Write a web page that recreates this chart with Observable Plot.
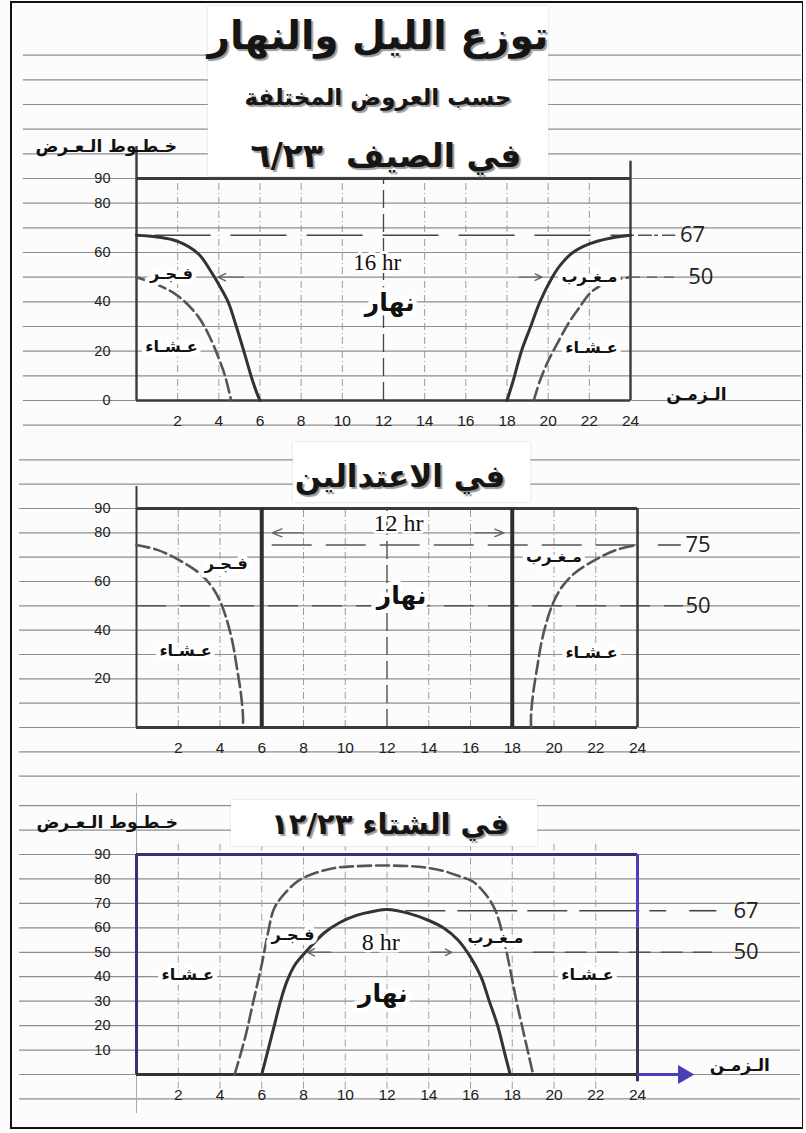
<!DOCTYPE html>
<html lang="ar">
<head>
<meta charset="utf-8">
<script src="https://cdn.jsdelivr.net/npm/d3@7"></script>
<script src="https://cdn.jsdelivr.net/npm/@observablehq/plot@0.6"></script>
<style>
  html,body{margin:0;padding:0;background:#fff;}
  #page{position:relative;width:806px;height:1133px;overflow:hidden;background:#fcfcfc;}
  #frame{position:absolute;left:10px;top:1px;width:790px;height:1124px;border:2px solid #111;border-right-width:1px;pointer-events:none;z-index:20;}
  .sec{position:absolute;left:0;}
  .box{position:absolute;background:#fff;box-shadow:0 0 2px #d0d0d0;z-index:5;}
  .ttl{position:absolute;font-family:"DejaVu Sans",sans-serif;font-weight:bold;color:#151515;text-align:center;direction:rtl;white-space:nowrap;text-shadow:2px 2px 1px #9a9a9a;z-index:6;transform:translate(-50%,-50%);}
  .lat{position:absolute;font-family:"DejaVu Sans",sans-serif;font-weight:bold;font-size:17px;color:#111;direction:rtl;white-space:nowrap;z-index:6;transform:translate(-100%,-50%);}
</style>
</head>
<body>
<div id="page">
  <div id="frame"></div>
  <div id="s1" class="sec" style="top:0px"></div>
  <div id="s2" class="sec" style="top:440px"></div>
  <div id="s3" class="sec" style="top:780px"></div>

  <div class="box" style="left:208px;top:6px;width:340px;height:170px"></div>
  <div class="ttl" style="left:378px;top:35px;font-size:39px">توزع الليل والنهار</div>
  <div class="ttl" style="left:378px;top:97px;font-size:23px">حسب العروض المختلفة</div>
  <div class="ttl" style="left:386px;top:155px;font-size:33px">في الصيف&nbsp; ٦/٢٣</div>
  <div class="lat" style="left:177px;top:146px">خـطـوط الـعـرض</div>

  <div class="box" style="left:293px;top:442px;width:237px;height:60px"></div>
  <div class="ttl" style="left:400px;top:476px;font-size:31px">في الاعتدالين</div>

  <div class="box" style="left:231px;top:800px;width:306px;height:46px"></div>
  <div class="ttl" style="left:390px;top:824px;font-size:29px">في الشتاء ١٢/٢٣</div>
  <div class="lat" style="left:178px;top:822px">خـطـوط الـعـرض</div>
</div>
<script>
// ---------- data ----------
const hourTicks = [2, 4, 6, 8, 10, 12, 14, 16, 18, 20, 22, 24];
const latTicksSummer = [0, 20, 40, 60, 80, 90];
const latTicksEquinox = [20, 40, 60, 80, 90];
const latTicksWinter = [10, 20, 30, 40, 50, 60, 70, 80, 90];

// summer 6/23
const summerSunriseHour = [0, 1, 2, 3, 3.64, 4, 4.45, 4.85, 5.25, 5.6, 5.85, 6];
const summerSunriseLat  = [67, 66.3, 64.5, 59.5, 52, 47, 40, 30, 19, 9, 3, 0];
const summerDawnHour = [0, 1, 2, 3, 3.6, 4, 4.3, 4.6];
const summerDawnLat  = [50, 47, 42.5, 34, 25, 17, 10, 0];
const summerSunsetHour = [18, 18.3, 18.7, 19.15, 19.6, 20.2, 20.6, 21.2, 22, 23, 24];
const summerSunsetLat  = [0, 8, 20, 30, 40, 50, 55, 60, 63.5, 65.8, 67];
const summerDuskHour = [19.3, 19.6, 20, 20.5, 21, 21.5, 22.1, 23, 24];
const summerDuskLat  = [0, 8, 16, 24, 31.5, 37.5, 44, 48.3, 50];

// equinoxes
const equinoxDawnHour = [0, 1, 2, 3, 3.6, 4, 4.3, 4.6, 4.8, 5, 5.1, 5.1];
const equinoxDawnLat  = [75, 73, 69, 63.5, 58, 52, 45, 35, 25, 14, 5, 0];
const equinoxDuskHour = [18.9, 18.9, 19, 19.2, 19.4, 19.7, 20, 20.4, 21, 22, 23, 24];
const equinoxDuskLat  = [0, 5, 14, 25, 35, 45, 52, 58, 63.5, 69, 73, 75];
const equinoxDayBounds = [6, 18];

// winter 12/23
const winterSunHour = [6, 6.3, 6.6, 6.9, 7.2, 7.6, 8.2, 9, 9.7, 10.5, 11.5, 12, 13, 14, 14.7, 15.4, 16, 16.5, 16.9, 17.3, 17.6, 17.9];
const winterSunLat  = [0, 10, 20, 30, 38, 45, 51, 58, 62, 65, 67, 67.5, 66, 63, 60, 55, 48, 40, 30, 20, 10, 0];
const winterTwilightHour = [4.7, 5.2, 5.6, 6, 6.3, 6.6, 7.2, 7.8, 8.6, 9.5, 10.5, 12, 13.5, 14.6, 15.5, 16.1, 16.7, 17.2, 17.6, 17.9, 18.2, 18.6, 19];
const winterTwilightLat  = [0, 15, 30, 45, 58, 68, 75, 79.5, 82.5, 84.5, 85.2, 85.5, 85, 83.5, 81, 79, 74, 67, 55, 43, 30, 15, 0];

// reference latitudes
const summerRefLats = [67, 50];
const equinoxRefLats = [75, 50];
const winterRefLats = [67, 50];
const dayLengths = ["16 hr", "12 hr", "8 hr"];

// ---------- helpers ----------
const zip = (hs, ls) => hs.map((h, i) => ({h, lat: ls[i]}));
const range = (a, b, s) => d3.range(a, b + s / 2, s);
const ARAB = "'DejaVu Sans', sans-serif";
const SANS = "'Liberation Sans', Arial, sans-serif";
const NUM = "'Open Sans', 'Liberation Sans', sans-serif";
const SERIF = "'Liberation Serif', 'DejaVu Serif', serif";
const RULE = "#8e8e8e";
const baseStyle = {background: "transparent", overflow: "visible", fontFamily: SANS, color: "#222"};

const FAJR = "فـجـر", ISHA = "عـشـاء", MAGHRIB = "مـغـرب", NAHAR = "نهار", TIME = "الـزمـن";

function ruled(levels, x1, x2) {
  return Plot.ruleY(levels, {y: d => d, x1: () => x1, x2: () => x2, stroke: RULE, strokeWidth: 1.2});
}
function lbl(items, opts = {}) {
  return Plot.text(items, {x: "x", y: "y", text: "t", fontFamily: ARAB, fontSize: 16, fontWeight: "bold", fill: "#111",
    stroke: "white", strokeWidth: 9, paintOrder: "stroke", ...opts});
}
function solid(hs, ls) {
  return Plot.line(zip(hs, ls), {x: "h", y: "lat", curve: "catmull-rom", stroke: "#333", strokeWidth: 3});
}
function dashed(hs, ls) {
  return Plot.line(zip(hs, ls), {x: "h", y: "lat", curve: "catmull-rom", stroke: "#555", strokeWidth: 2.6, strokeDasharray: "13,5"});
}

// ---------- summer ----------
const c1 = Plot.plot({
  width: 806, height: 440,
  marginLeft: 136, marginRight: 176, marginTop: 178, marginBottom: 40,
  x: {domain: [0, 24], axis: null},
  y: {domain: [0, 90], axis: null},
  style: baseStyle,
  marks: [
    ruled(range(-10, 140, 10), -5.5, 32.3),
    Plot.ruleX(hourTicks.filter(h => h !== 12 && h !== 24), {x: d => d, y1: 0, y2: 90, stroke: "#9a9a9a", strokeWidth: 1, strokeDasharray: "7,3,1,3"}),
    Plot.ruleX([12], {x: d => d, y1: 0, y2: 90, stroke: "#444", strokeWidth: 1.3, strokeDasharray: "18,6"}),
    Plot.ruleY([summerRefLats[0]], {y: d => d, x1: 0.9, x2: 24, stroke: "#444", strokeWidth: 1.5, strokeDasharray: "56,20"}),
    Plot.ruleY([summerRefLats[0]], {y: d => d, x1: 24, x2: 26.2, stroke: "#555", strokeWidth: 1.4, strokeDasharray: "4,4,14,2"}),
    Plot.ruleY([summerRefLats[1]], {y: d => d, x1: 24, x2: 26.3, stroke: "#555", strokeWidth: 1.4, strokeDasharray: "10,7"}),
    // frame
    Plot.ruleY([90], {y: d => d, x1: 0, x2: 24, stroke: "#3a3a3a", strokeWidth: 3}),
    Plot.ruleY([0], {y: d => d, x1: 0, x2: 24, stroke: "#3a3a3a", strokeWidth: 2.6}),
    Plot.ruleX([0], {x: d => d, y1: 0, y2: 103, stroke: "#3a3a3a", strokeWidth: 2.4}),
    Plot.ruleX([24], {x: d => d, y1: 0, y2: 97, stroke: "#3a3a3a", strokeWidth: 2.4}),
    // arrows
    Plot.arrow([{a: 5.2, b: 3.95}, {a: 18.6, b: 19.7}], {x1: "a", x2: "b", y1: () => 50, y2: () => 50, stroke: "#666", strokeWidth: 1.4, headLength: 12, headAngle: 50}),
    // curves
    solid(summerSunriseHour, summerSunriseLat),
    solid(summerSunsetHour, summerSunsetLat),
    dashed(summerDawnHour, summerDawnLat),
    dashed(summerDuskHour, summerDuskLat),
    // axes
    Plot.axisY({ticks: latTicksSummer, anchor: "left", tickSize: 0, tickPadding: 26, fontSize: 14.5}),
    Plot.axisX({ticks: hourTicks, anchor: "bottom", tickSize: 0, tickPadding: 14, fontSize: 15.5}),
    // labels
    Plot.text([dayLengths[0]], {x: () => 11.7, y: () => 56, text: d => d, fontFamily: SERIF, fontSize: 23, fill: "#111", stroke: "white", strokeWidth: 6, paintOrder: "stroke"}),
    lbl([{x: 12.3, y: 39.7, t: NAHAR}], {fontSize: 25}),
    lbl([{x: 1.7, y: 51.5, t: FAJR}, {x: 1.7, y: 21.7, t: ISHA}, {x: 22, y: 50.3, t: MAGHRIB}, {x: 22.1, y: 21.3, t: ISHA}]),
    lbl([{x: 27.2, y: 2.3, t: TIME}], {fontSize: 17, stroke: null}),
    Plot.text(summerRefLats, {x: d => d === 67 ? 26.4 : 26.8, y: d => d, text: d => String(d), textAnchor: "start", fontFamily: NUM, fontSize: 22, fill: "#222"})
  ]
});
document.getElementById("s1").append(c1);

// ---------- equinoxes ----------
const c2 = Plot.plot({
  width: 806, height: 340,
  marginLeft: 136, marginRight: 169, marginTop: 68, marginBottom: 53,
  x: {domain: [0, 24], axis: null},
  y: {domain: [0, 90], axis: null},
  style: baseStyle,
  marks: [
    ruled(range(-20, 110, 10), -5.6, 31.8),
    Plot.ruleX(hourTicks.filter(h => ![6, 12, 18, 24].includes(h)), {x: d => d, y1: 0, y2: 90, stroke: "#9a9a9a", strokeWidth: 1, strokeDasharray: "7,3,1,3"}),
    Plot.ruleX([12], {x: d => d, y1: 0, y2: 90, stroke: "#444", strokeWidth: 1.3, strokeDasharray: "18,6"}),
    Plot.ruleY([equinoxRefLats[0]], {y: d => d, x1: 6.5, x2: 24, stroke: "#555", strokeWidth: 1.5, strokeDasharray: "40,14"}),
    Plot.ruleY([equinoxRefLats[0]], {y: d => d, x1: 25, x2: 26.1, stroke: "#444", strokeWidth: 1.5}),
    Plot.ruleY([equinoxRefLats[1]], {y: d => d, x1: 0, x2: 26.2, stroke: "#555", strokeWidth: 1.5, strokeDasharray: "30,14"}),
    // frame
    Plot.ruleY([90], {y: d => d, x1: 0, x2: 24, stroke: "#3a3a3a", strokeWidth: 3}),
    Plot.ruleY([0], {y: d => d, x1: 0, x2: 24, stroke: "#3a3a3a", strokeWidth: 3}),
    Plot.ruleX([0], {x: d => d, y1: 0, y2: 99, stroke: "#3a3a3a", strokeWidth: 2}),
    Plot.ruleX([24], {x: d => d, y1: 0, y2: 90, stroke: "#3a3a3a", strokeWidth: 2.6}),
    Plot.ruleX(equinoxDayBounds, {x: d => d, y1: 0, y2: 90, stroke: "#2e2e2e", strokeWidth: 4}),
    // arrows
    Plot.arrow([{a: 8, b: 6.5}, {a: 16.2, b: 17.6}], {x1: "a", x2: "b", y1: () => 80, y2: () => 80, stroke: "#666", strokeWidth: 1.4, headLength: 12, headAngle: 45}),
    // curves
    dashed(equinoxDawnHour, equinoxDawnLat),
    dashed(equinoxDuskHour, equinoxDuskLat),
    // axes
    Plot.axisY({ticks: latTicksEquinox, anchor: "left", tickSize: 0, tickPadding: 26, fontSize: 14.5}),
    Plot.axisX({ticks: hourTicks, anchor: "bottom", tickSize: 0, tickPadding: 14, fontSize: 15.5}),
    // labels
    Plot.text([dayLengths[1]], {x: () => 12.55, y: () => 83.8, text: d => d, fontFamily: SERIF, fontSize: 24, fill: "#111", stroke: "white", strokeWidth: 5, paintOrder: "stroke"}),
    lbl([{x: 12.7, y: 54, t: NAHAR}], {fontSize: 25}),
    lbl([{x: 4.3, y: 67.4, t: FAJR}, {x: 2.35, y: 31.6, t: ISHA}, {x: 20, y: 70, t: MAGHRIB}, {x: 21.8, y: 30.8, t: ISHA}]),
    Plot.text(equinoxRefLats, {x: () => 26.3, y: d => d, text: d => String(d), textAnchor: "start", fontFamily: NUM, fontSize: 22, fill: "#222"})
  ]
});
document.getElementById("s2").append(c2);

// ---------- winter ----------
const PURPLE = "#3b2d78";
const BLUE = "#4a3fb5";
const c3 = Plot.plot({
  width: 806, height: 353,
  marginLeft: 136, marginRight: 169, marginTop: 74, marginBottom: 59,
  x: {domain: [0, 24], axis: null},
  y: {domain: [0, 90], axis: null},
  style: baseStyle,
  marks: [
    ruled(range(-10, 110, 10), -5.6, 31.8),
    Plot.ruleX(hourTicks.filter(h => h !== 24), {x: d => d, y1: -6, y2: 95, stroke: "#a0a0a0", strokeWidth: 1, strokeDasharray: "7,3,1,3"}),
    Plot.ruleX([0], {x: d => d, y1: -16, y2: 115, stroke: "#aaa", strokeWidth: 1}),
    Plot.ruleY([winterRefLats[0]], {y: d => d, x1: 12.9, x2: 25.4, stroke: "#444", strokeWidth: 1.6, strokeDasharray: "40,12,60,10"}),
    Plot.ruleY([winterRefLats[0]], {y: d => d, x1: 26.5, x2: 27.8, stroke: "#444", strokeWidth: 1.6}),
    Plot.ruleY([winterRefLats[1]], {y: d => d, x1: 19, x2: 27.6, stroke: "#555", strokeWidth: 1.5, strokeDasharray: "22,10"}),
    // frame
    Plot.ruleY([90], {y: d => d, x1: 0, x2: 24, stroke: PURPLE, strokeWidth: 3}),
    Plot.ruleX([0], {x: d => d, y1: 0, y2: 90, stroke: PURPLE, strokeWidth: 3}),
    Plot.ruleX([24], {x: d => d, y1: 60, y2: 90, stroke: BLUE, strokeWidth: 3}),
    Plot.ruleX([24], {x: d => d, y1: -3, y2: 60, stroke: "#3a3550", strokeWidth: 3}),
    Plot.ruleY([0], {y: d => d, x1: 0, x2: 24, stroke: "#333", strokeWidth: 3}),
    Plot.ruleY([0], {y: d => d, x1: 24, x2: 26, stroke: BLUE, strokeWidth: 3}),
    Plot.dot([0], {x: () => 26.2, y: d => d, symbol: "triangle", rotate: 90, r: 6, fill: BLUE, stroke: BLUE}),
    // arrows
    Plot.arrow([{a: 9.3, b: 8.2}, {a: 14.1, b: 15.1}], {x1: "a", x2: "b", y1: () => 50, y2: () => 50, stroke: "#666", strokeWidth: 1.4, headLength: 10, headAngle: 55}),
    // curves
    dashed(winterTwilightHour, winterTwilightLat),
    solid(winterSunHour, winterSunLat),
    // axes
    Plot.axisY({ticks: latTicksWinter, anchor: "left", tickSize: 0, tickPadding: 26, fontSize: 14.5}),
    Plot.axisX({ticks: hourTicks, anchor: "bottom", tickSize: 0, tickPadding: 14, fontSize: 15.5}),
    // labels
    Plot.text([dayLengths[2]], {x: () => 11.7, y: () => 54, text: d => d, fontFamily: SERIF, fontSize: 24, fill: "#111", stroke: "white", strokeWidth: 5, paintOrder: "stroke"}),
    lbl([{x: 11.8, y: 33, t: NAHAR}], {fontSize: 25}),
    lbl([{x: 7.5, y: 57, t: FAJR}, {x: 2.45, y: 40.6, t: ISHA}, {x: 17.2, y: 56, t: MAGHRIB}, {x: 21.6, y: 40.6, t: ISHA}]),
    lbl([{x: 28.9, y: 3.7, t: TIME}], {fontSize: 17, stroke: null}),
    Plot.text(winterRefLats, {x: () => 28.6, y: d => d, text: d => String(d), textAnchor: "start", fontFamily: NUM, fontSize: 22, fill: "#222"})
  ]
});
document.getElementById("s3").append(c3);
</script>
</body>
</html>
